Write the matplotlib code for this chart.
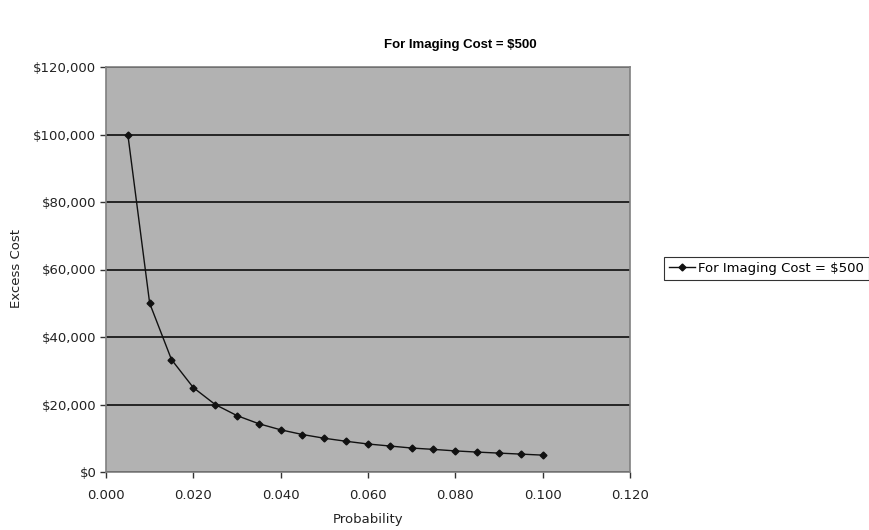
import matplotlib
matplotlib.use("Agg")
import matplotlib.pyplot as plt
from matplotlib.ticker import FuncFormatter

probability = [0.005, 0.010, 0.015, 0.020, 0.025, 0.030, 0.035, 0.040, 0.045, 0.050,
               0.055, 0.060, 0.065, 0.070, 0.075, 0.080, 0.085, 0.090, 0.095, 0.100]
excess_cost = [100000, 50000, 33300, 25000, 20000, 16700, 14300, 12500, 11100, 10000,
               9100, 8300, 7700, 7100, 6700, 6250, 5900, 5600, 5300, 5000]
series_name = "For Imaging Cost = $500"
title = "For Imaging Cost = $500"
x_ticks = [0.000, 0.020, 0.040, 0.060, 0.080, 0.100, 0.120]
y_ticks = [0, 20000, 40000, 60000, 80000, 100000, 120000]

plt.rcParams['font.family'] = ['DejaVu Sans']

fig = plt.figure(figsize=(8.7, 5.3), dpi=100)
ax = fig.add_axes([106/870, 1-472/530, (630-106)/870, (472-67)/530])
ax.set_facecolor('#b2b2b2')

ax.plot(probability, excess_cost, color='#111111', lw=1.0, marker='D', ms=3.5,
        markerfacecolor='#111111', markeredgecolor='#111111', label=series_name)

ax.set_xlim(0, 0.12)
ax.set_ylim(0, 120000)
ax.set_xticks(x_ticks)
ax.set_yticks(y_ticks)
ax.xaxis.set_major_formatter(FuncFormatter(lambda v, p: f"{v:.3f}"))
ax.yaxis.set_major_formatter(FuncFormatter(lambda v, p: f"${v:,.0f}"))
ax.yaxis.grid(True, color='#1a1a1a', lw=1.3)
ax.set_axisbelow(True)
for s in ax.spines.values():
    s.set_color('#808080')
    s.set_linewidth(1.2)
ax.tick_params(axis='both', direction='out', length=4, width=1, color='#333333',
               labelsize=9.5, labelcolor='#222222')
ax.tick_params(axis='x', pad=8)
ax.tick_params(axis='y', pad=3)

fig.text(368/870, 1-520/530, "Probability", ha='center', va='center', fontsize=9.5,
         color='#222222')
fig.text(17/870, 1-268/530, "Excess Cost", ha='center', va='center', fontsize=9.5,
         rotation=90, color='#222222')

fig.text(460/870, 1-45/530, title, ha='center', va='center', fontsize=9.5,
         fontweight='bold', family='Liberation Sans')

leg = fig.legend(loc='center left', bbox_to_anchor=(664/870, 1-268.5/530), fontsize=9.5,
                 frameon=True, fancybox=False, edgecolor='black', borderpad=0.35,
                 handlelength=2.0, handletextpad=0.25, borderaxespad=0)
leg.get_frame().set_linewidth(0.8)

fig.savefig("out.png", dpi=100)
